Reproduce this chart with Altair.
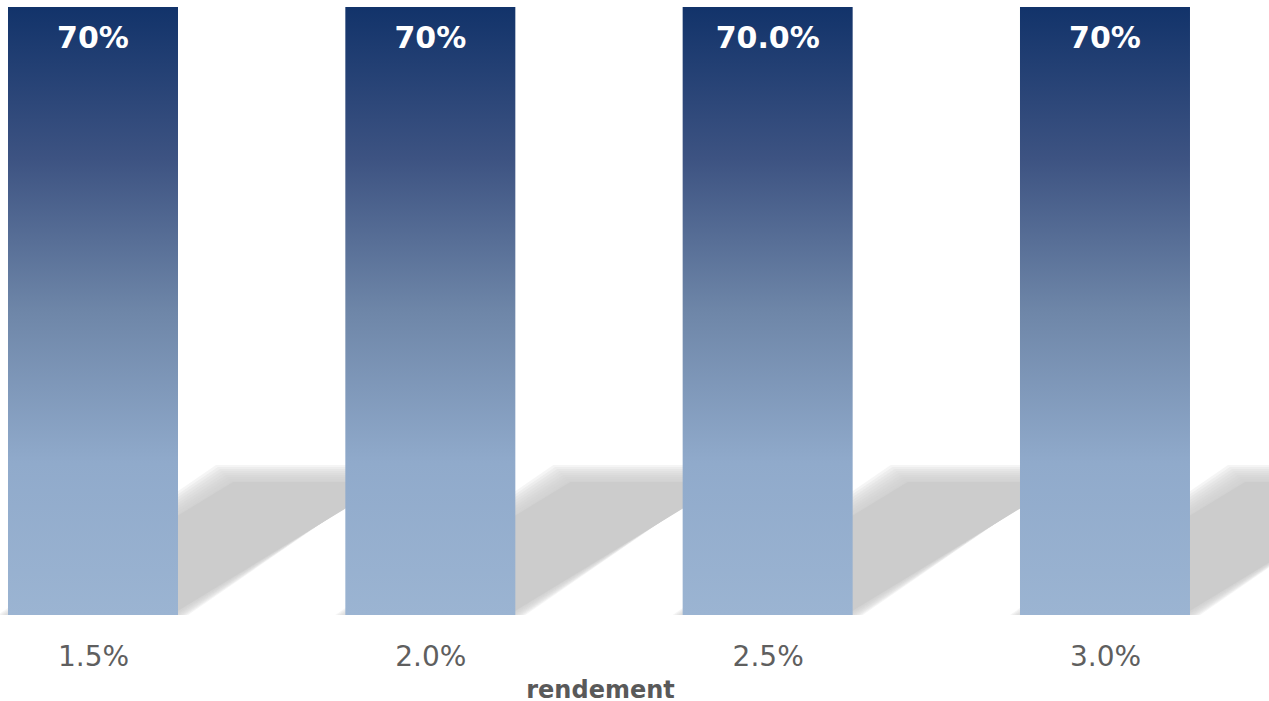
import json
import altair as alt
import pandas as pd

# ---- data ----
rates = ["1.5%", "2.0%", "2.5%", "3.0%"]
values = [0.70, 0.70, 0.70, 0.70]
value_labels = ["70%", "70%", "70.0%", "70%"]

# ---- layout constants ----
W, H = 1269, 608
PX_X = 337.33                 # pixels per category step
x_dom = [-93 / PX_X, (W - 93) / PX_X]
y_max = 0.70
PX_Y = H / y_max
half = 85 / PX_X              # half bar width in x units
SH_FRAC = 140 / 608           # shadow height relative to bar height
SH_DX = 218 / PX_X            # shadow horizontal shift

bars = pd.DataFrame({"i": list(range(len(rates))), "rate": rates,
                     "value": values, "label": value_labels})
bars["x0"] = bars["i"] - half
bars["x1"] = bars["i"] + half
bars["base"] = 0.0


def shadow_rows(ex_px, ey_px):
    rows = []
    ex, ey = ex_px / PX_X, ey_px / PX_Y
    for i, v in enumerate(values):
        hs = v * SH_FRAC + ey
        L, R = i - half - ex, i + half + ex
        dx = SH_DX * v / y_max
        w = R - L
        pts = [(L, 0.0, 0.0), (R, 0.0, hs * w / dx),
               (L + dx, hs * (dx - w) / dx, hs), (R + dx, hs, hs)]
        for x, lo, hi in pts:
            rows.append({"bar": i, "x": x, "lo": lo, "hi": hi})
    return pd.DataFrame(rows)


x_scale = alt.Scale(domain=x_dom, nice=False, zero=False)
y_scale = alt.Scale(domain=[0, y_max], nice=False, zero=False)

label_expr = json.dumps(rates) + "[datum.value]"
x_axis = alt.Axis(values=list(range(len(rates))), labelExpr=label_expr,
                  title="rendement", domain=False, ticks=False, grid=False,
                  labelFont="DejaVu Sans", labelFontSize=28,
                  labelColor="#5f5f5f", labelPadding=28,
                  labelOverlap=False, labelFlush=False,
                  titleFont="DejaVu Sans", titleFontWeight="bold",
                  titleFontSize=24, titleColor="#595959",
                  titleX=600, titleY=82, titleBaseline="alphabetic",
                  titleAlign="center")


def shadow_layer(ex_px, ey_px, opacity):
    return alt.Chart(shadow_rows(ex_px, ey_px)).mark_area(
        color="#cccccc", opacity=opacity, clip=True, interpolate="linear"
    ).encode(
        x=alt.X("x:Q", scale=x_scale, axis=x_axis, title="rendement"),
        y=alt.Y("hi:Q", scale=y_scale, axis=None),
        y2="lo:Q",
        detail="bar:N",
    )


shadows = [shadow_layer(e, e, 0.2) for e in (10, 8, 6, 4, 2, 0, -2, -4, -6)]
shadows.append(shadow_layer(-7, -7, 1.0))

gradient = alt.Gradient(
    gradient="linear", x1=0, y1=0, x2=0, y2=1,
    stops=[alt.GradientStop(color="#12336a", offset=0),
           alt.GradientStop(color="#3d5382", offset=0.25),
           alt.GradientStop(color="#6e86a8", offset=0.5),
           alt.GradientStop(color="#90aacb", offset=0.75),
           alt.GradientStop(color="#9bb4d2", offset=1)],
)

bar_layer = alt.Chart(bars).mark_rect(color=gradient, strokeWidth=0).encode(
    x=alt.X("x0:Q", scale=x_scale, axis=x_axis, title="rendement"),
    x2="x1:Q",
    y=alt.Y("value:Q", scale=y_scale, axis=None),
    y2="base:Q",
)

text_layer = alt.Chart(bars).mark_text(
    font="DejaVu Sans", fontWeight="bold", fontSize=30, color="white",
    baseline="alphabetic", align="center", dy=41
).encode(
    x=alt.X("i:Q", scale=x_scale, axis=x_axis, title="rendement"),
    y=alt.Y("value:Q", scale=y_scale, axis=None),
    text="label:N",
)

chart = alt.layer(*shadows, bar_layer, text_layer).properties(
    width=W, height=H,
    background="white",
    autosize=alt.AutoSizeParams(type="none"),
    padding={"left": 0, "top": 7, "right": 0, "bottom": 86},
).configure_view(strokeWidth=0, stroke="transparent")

chart.save("out.html", embed_options={"renderer": "svg", "actions": False})
